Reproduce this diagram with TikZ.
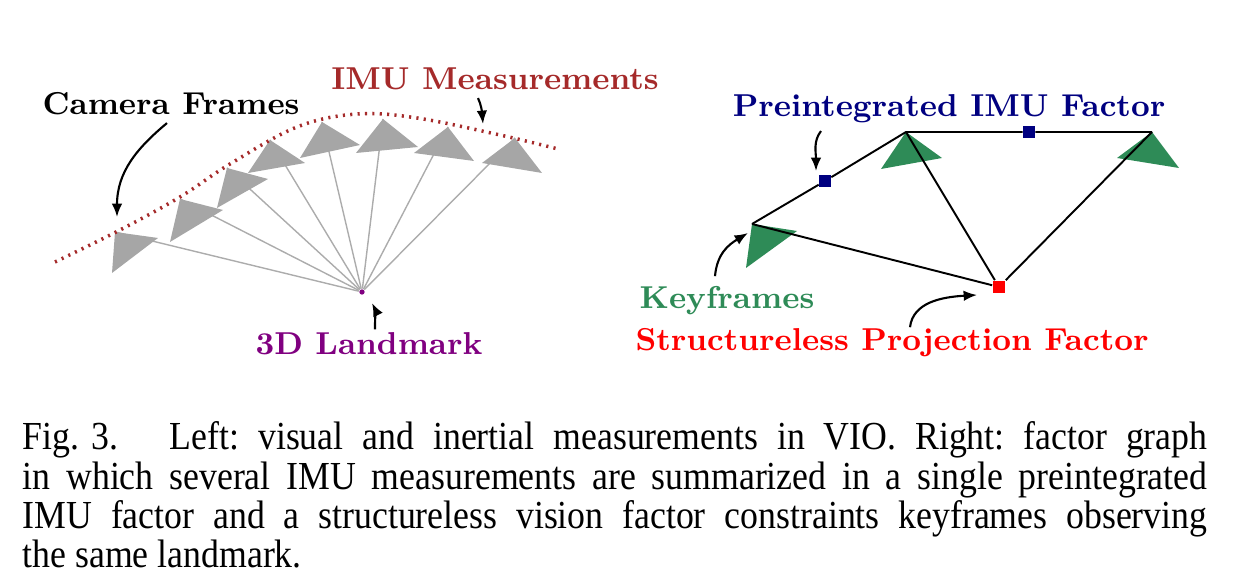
\documentclass[tikz,border=0pt]{standalone}
\usepackage{fontspec}
\usetikzlibrary{arrows.meta}
\newfontfamily\capfont[FakeStretch=0.9]{Liberation Serif}

\definecolor{imubrown}{RGB}{165,42,42}
\definecolor{lmpurple}{RGB}{128,0,128}
\definecolor{pimunavy}{RGB}{0,0,128}
\definecolor{kfgreen}{RGB}{46,139,87}
\definecolor{camgray}{RGB}{166,166,166}
\definecolor{raygray}{RGB}{172,172,172}

\tikzset{
	lbl/.style={font=\bfseries\fontsize{9}{11}\selectfont, anchor=base, inner sep=0pt},
	pointer/.style={-{Latex[length=3.8pt,width=3pt]}, line width=0.6pt},
	factor/.style={rectangle, inner sep=0pt, minimum size=3.2pt},
	edge/.style={line width=0.55pt},
}

\begin{document}
\begin{tikzpicture}[x=0.01cm,y=-0.01cm]
		\useasboundingbox (0,0) rectangle (1236,586);
		
		% left: camera frames looking at one landmark
		\node[circle,fill=lmpurple,inner sep=0pt,minimum size=1.5pt] (lm) at (362,292) {};
		
		\foreach \ax/\ay/\bx/\by/\cx/\cy [count=\i] in {
			115/232/112/273/158/238, 180/199/170/242/223/210,
			227/168/217/208/268/179, 270/140/248/173/305/163,
			322/122/300/158/360/145, 383/119/356/153/418/147,
			448/127/414/153/474/161, 515/138/482/163/542/173}
		{
		\coordinate (c\i) at (\ax,\ay);
		\draw[raygray,line width=0.4pt] (c\i) -- (lm);
		\fill[camgray] (c\i) -- (\bx,\by) -- (\cx,\cy) -- cycle;
		}
		
		\draw[imubrown,line width=1pt,dash pattern=on 0.6pt off 1.5pt]
			plot[smooth,tension=0.6] coordinates {(55,262) (120,230) (180,197) (230,164)
			(297,127) (357,114) (417,118) (500,135) (558,149)};
		
		\node[lbl] (camlbl) at (171,115) {Camera Frames};
		\node[lbl,imubrown] (imulbl) at (495,90) {IMU Measurements};
		\node[lbl,lmpurple] (lmlbl) at (369,355) {3D Landmark};
		
		\coordinate (camtip) at (117,217);
		\coordinate (imutip) at (483,124);
		\coordinate (lmtip) at (372,303);
		
		\draw[pointer] ([shift={(-4,7)}]camlbl.south) .. controls +(-30,25) and +(0,-45) .. (camtip);
		\draw[pointer] ([shift={(-17,7)}]imulbl.south) .. controls +(3,6) and +(-1,-12) .. (imutip);
		\draw[pointer] ([shift={(6,-3)}]lmlbl.north) .. controls +(0,-8) and +(3,6) .. (lmtip);
		
		% right: factor graph
		\coordinate (k1) at (752,224);
		\coordinate (k2) at (906,132);
		\coordinate (k3) at (1152,132);
		
		\foreach \k/\bx/\by/\cx/\cy in {k1/-6/44/45/7, k2/-25/37/36/26, k3/-35/26/27/36}
		\fill[kfgreen] (\k) -- +(\bx,\by) -- +(\cx,\cy) -- cycle;
		
		\node[factor,fill=pimunavy] (p1) at (825,181) {};
		\node[factor,fill=pimunavy] (p2) at (1029,132) {};
		\node[factor,fill=red,minimum size=3.5pt] (sp) at (999,287) {};
		
		\draw[edge] (k1) -- (p1) -- (k2) -- (p2) -- (k3);
		\draw[edge] (k1) -- (sp) (k2) -- (sp) (k3) -- (sp);
		
		\node[lbl,pimunavy] (pimulbl) at (949,117) {Preintegrated IMU Factor};
		\node[lbl,kfgreen] (kflbl) at (727,309) {Keyframes};
		\node[lbl,red] (splbl) at (892,351) {Structureless Projection Factor};
		
		\coordinate (pimutip) at (816,171);
		\coordinate (kftip) at (748,233);
		\coordinate (sptip) at (977,295);
		
		\draw[pointer] ([shift={(-128,7)}]pimulbl.south) .. controls +(-8,10) and +(0,-18) .. (pimutip);
		\draw[pointer] ([shift={(-12,-10)}]kflbl.north) .. controls +(2,-22) and +(-20,12) .. (kftip);
		\draw[pointer] ([shift={(18,-1)}]splbl.north) .. controls +(3,-25) and +(-35,2) .. (sptip);
		
		% caption
		\node[anchor=base west,inner sep=0pt] (cap) at (22,450) {\parbox[t]{11.84cm}{\capfont\fontsize{11.3}{11.1}\selectfont\frenchspacing
			Fig.\hspace{0.3em}3.\hspace{1.3em}Left: visual and inertial measurements in VIO. Right: factor graph\linebreak
			in which several IMU measurements are summarized in a single preintegrated\linebreak
			IMU factor and a structureless vision factor constraints keyframes observing\linebreak
			the same landmark.}};
		
\end{tikzpicture}
\end{document}
